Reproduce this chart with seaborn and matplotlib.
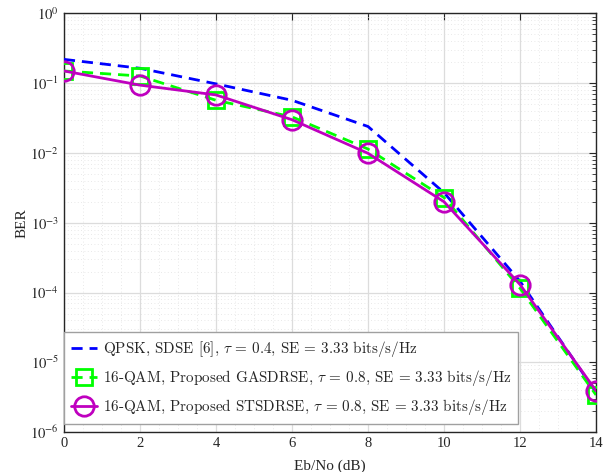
import numpy as np
import pandas as pd
import matplotlib
matplotlib.use("Agg")
import matplotlib.pyplot as plt
import seaborn as sns
from matplotlib.font_manager import FontProperties
from matplotlib.ticker import LogLocator, FixedLocator, FuncFormatter, NullFormatter

ebno = [0, 2, 4, 6, 8, 10, 12, 14]
ber_qpsk = [0.22, 0.164, 0.098, 0.057, 0.024, 0.0027, 1.45e-4, 3.7e-6]
ber_gas = [0.15, 0.127, 0.057, 0.033, 0.0114, 0.0023, 1.15e-4, 3.4e-6]
ber_sts = [0.15, 0.094, 0.068, 0.030, 0.0099, 0.0020, 1.3e-4, 3.9e-6]

labels = [
    r"QPSK, SDSE [6], $\tau$ = 0.4, SE = 3.33 bits/s/Hz",
    r"16-QAM, Proposed GASDRSE, $\tau$ = 0.8, SE = 3.33 bits/s/Hz",
    r"16-QAM, Proposed STSDRSE, $\tau$ = 0.8, SE = 3.33 bits/s/Hz",
]
x_ticks = [0, 2, 4, 6, 8, 10, 12, 14]

sns.set_style("white")
plt.rcParams["font.family"] = ["Liberation Serif", "DejaVu Serif"]
plt.rcParams["mathtext.fontset"] = "stix"

fig = plt.figure(figsize=(6.11, 4.72), dpi=100)
ax = fig.add_axes([0.1047, 0.0847, 0.9755 - 0.1047, 0.9714 - 0.0847])

df = pd.DataFrame({"x": ebno, "q": ber_qpsk, "g": ber_gas, "s": ber_sts})

sns.lineplot(data=df, x="x", y="q", ax=ax, color="#0000ff", lw=2.0,
             linestyle=(0, (4, 2.5)), label=labels[0], zorder=3)
sns.lineplot(data=df, x="x", y="g", ax=ax, color="#00ff00", lw=2.0,
             linestyle=(0, (4, 2.5)), marker="s", markersize=12,
             markerfacecolor="none", markeredgecolor="#00ff00",
             markeredgewidth=2.0, label=labels[1], zorder=4)
sns.lineplot(data=df, x="x", y="s", ax=ax, color="#bf00bf", lw=2.0,
             linestyle="-", marker="o", markersize=14,
             markerfacecolor="none", markeredgecolor="#bf00bf",
             markeredgewidth=2.0, label=labels[2], zorder=5)

ax.set_yscale("log")
ax.set_xlim(0, 14)
ax.set_ylim(1e-6, 1)
ax.xaxis.set_major_locator(FixedLocator(x_ticks))
ax.yaxis.set_major_locator(LogLocator(base=10, numticks=10))
ax.yaxis.set_minor_locator(LogLocator(base=10, subs=np.arange(2, 10), numticks=100))
ax.yaxis.set_minor_formatter(NullFormatter())
ax.yaxis.set_major_formatter(FuncFormatter(lambda v, p: r"$10^{%d}$" % int(round(np.log10(v)))))

ax.grid(True, which="major", color="#dcdcdc", lw=0.9, ls="-")
ax.grid(True, which="minor", axis="y", color="#e2e2e2", lw=0.6, ls=(0, (1, 3)))
ax.set_axisbelow(True)
ax.xaxis.set_minor_locator(FixedLocator(np.arange(0, 14.01, 0.5)))
ax.grid(True, which="minor", axis="x", color="#e2e2e2", lw=0.6, ls=(0, (1, 3)))

ax.tick_params(which="both", direction="in", top=True, right=True, labelsize=10.5,
               colors="#262626", labelcolor="#262626")
ax.tick_params(which="major", length=5, width=0.8)
ax.tick_params(which="minor", length=3, width=0.6)
ax.tick_params(axis="x", which="minor", length=0)
for sp in ax.spines.values():
    sp.set_color("#262626")
    sp.set_linewidth(1.0)

ax.set_xlabel("Eb/No (dB)", fontsize=11, labelpad=7)
ax.set_ylabel("BER", fontsize=11, labelpad=1)

prop = FontProperties(family="cmr10", size=10.9, math_fontfamily="cm")
leg = ax.legend(loc="lower left", bbox_to_anchor=(0, 0.019), borderaxespad=0,
                prop=prop, frameon=True, fancybox=False, framealpha=1,
                edgecolor="#a0a0a0", handlelength=1.75, handletextpad=0.35,
                labelspacing=0.6, borderpad=0.45)
leg.get_frame().set_linewidth(1.0)

fig.savefig("out.png", dpi=100)
